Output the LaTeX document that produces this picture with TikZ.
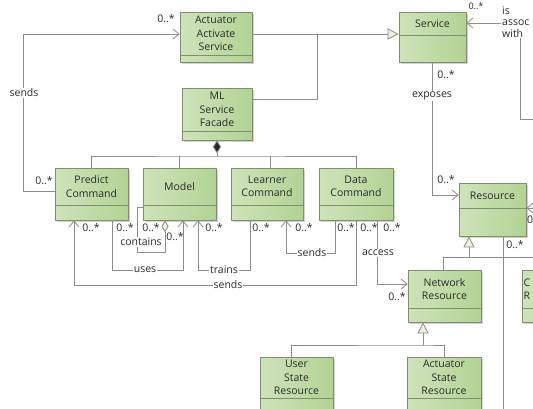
\documentclass[tikz,border=0pt]{standalone}
\usepackage{fontspec}
\setmainfont{Open Sans}
\usetikzlibrary{arrows.meta}
\definecolor{lnc}{HTML}{8C8C8C}
\definecolor{bdc}{HTML}{7F8F72}
\definecolor{gl}{HTML}{CFE3BA}
\definecolor{gm}{HTML}{DDEBD0}
\definecolor{gr}{HTML}{B2D394}
\definecolor{txc}{HTML}{2B2B2B}
\definecolor{crm}{HTML}{F2EEDC}
\newcommand\mkcls[7]{%
  \pgfmathsetmacro\cw{#4-#2}\pgfmathsetmacro\ch{#5-#3}%
  \fill[shd] (#2+2,#3+2) rectangle (#4+2,#5+2);
  \node[cls, minimum width=\cw pt, minimum height=\ch pt] (#1) at ({(#2+#4)/2},{(#3+#5)/2}) {};
  \draw[bdc, line width=0.7pt] (#2,#6) -- (#4,#6);
  \node[clstext] (#1t) at ({(#2+#4)/2},{(#3+#6)/2}) {#7};
}
\begin{document}
\begin{tikzpicture}[x=1pt,y=-1pt,
  font=\fontsize{10.5}{13.5}\selectfont,
  cls/.style={draw=bdc,line width=0.7pt,left color=gl,middle color=gm,right color=gr,inner sep=0pt},
  clstext/.style={align=center,text=txc,inner sep=0pt},
  shd/.style={fill=black,opacity=0.18},
  ln/.style={draw=lnc,line width=0.8pt},
  nav/.style={ln,-{Straight Barb[length=6pt,width=10pt]}},
  navs/.style={ln,{Straight Barb[length=6pt,width=10pt]}-},
  gen/.style={ln,-{Triangle[length=11pt,width=11pt,fill=crm]}},
  comp/.style={ln,{Diamond[length=13pt,width=8pt,fill=black!85]}-},
  agg/.style={ln,-{Diamond[length=12pt,width=7pt,fill=crm]}},
  lbl/.style={text=txc,inner sep=1pt},
  wl/.style={lbl,fill=white},
]
\useasboundingbox (0,0) rectangle (533,408);
\clip (0,0) rectangle (533,408);
\fill[white] (0,0) rectangle (533,408);

\mkcls{aas}{180}{12}{252}{62}{55}{Actuator\\Activate\\Service}
\mkcls{ml}{182}{88}{252}{140}{131}{ML\\Service\\Facade}
\mkcls{sv}{399}{12}{466}{62}{35}{Service}
\mkcls{pc}{55}{168}{128}{220}{205}{Predict\\Command}
\mkcls{md}{143}{168}{216}{220}{205}{Model}
\mkcls{lc}{231}{168}{303}{220}{205}{Learner\\Command}
\mkcls{dc}{319}{168}{393}{220}{205}{Data\\Command}
\mkcls{rs}{459}{183}{526}{236}{208}{Resource}
\mkcls{nr}{408}{270}{481}{322}{308}{Network\\Resource}
\mkcls{us}{260}{357}{333}{425}{398}{User\\State\\Resource}
\mkcls{as}{407}{357}{481}{425}{398}{Actuator\\State\\Resource}
\mkcls{cr}{522}{270}{600}{322}{308}{}
\node[clstext,align=left,anchor=west] (crt2) at (523.5,289) {C\\R};

% sends: Predict -> Actuator Activate Service
\coordinate (k1) at (23,191);
\draw[nav] ([yshift=3pt]pc.west) -- (k1) |- ([yshift=3pt]aas.west);
\node[wl] (l1) at (24,93) {sends};
\node[lbl] (l2) at (166,19) {0..*};
\node[lbl] (l3) at (44,181) {0..*};

% generalizations to Service
\draw[gen] ([yshift=3pt]aas.east) -- ([yshift=3pt]sv.west);
\coordinate (j1) at (317,34);
\draw[ln] ([yshift=15pt]ml.east) -| (j1);

% composition
\coordinate (bus) at (217,156);
\draw[comp] (ml.south) -- (bus);
\draw[ln] (pc.north) |- (bus) -| (dc.north);
\draw[ln] (md.north) -- (md.north |- bus);
\draw[ln] ([xshift=3pt]lc.north) -- ([xshift=3pt]lc.north |- bus);

% exposes
\draw[nav] (sv.south) |- ([yshift=14.5pt]rs.west);
\node[lbl] (l4) at (446,75) {0..*};
\node[wl] (l5) at (432,96) {exposes};
\node[lbl] (l6) at (446,180) {0..*};

% association at Service right
\coordinate (k2) at (520,119);
\coordinate (k3) at (545,119);
\draw[navs] ([yshift=14pt]sv.east) -| (k2) -- (k3);
\node[wl,align=left,anchor=west,font=\fontsize{10.5}{11.5}\selectfont] (l7) at (501,22) {is\\assoc\\with};
\node[lbl,font=\fontsize{9}{10}\selectfont] (l8) at (476,6) {0..*};

% Resource right
\coordinate (k4) at (545,208);
\draw[nav] (k4) -- ([yshift=1.5pt]rs.east);
\node[lbl,anchor=west] (l9) at (526,220) {0};

% Resource bottom
\coordinate (k5) at (503,430);
\draw[ln] (rs.south -| k5) -- (k5);
\node[lbl] (l10) at (515,245) {0..*};

% generalization to Resource
\coordinate (g1) at (469,257);
\coordinate (k6) at (545,257);
\draw[ln] ([xshift=-1.5pt]nr.north) |- (k6);
\draw[gen] (g1) -- (g1 |- rs.south);

% generalization to Network Resource
\coordinate (g2) at (423,345);
\draw[ln] ([xshift=-5.5pt]us.north) |- (g2) -| (as.north);
\draw[gen] (g2) -- (g2 |- nr.south);

% contains
\coordinate (c1) at (137,252);
\coordinate (c2) at (165,252);
\draw[agg] ([yshift=-13pt]md.west) -| (c1) -- (c2) -- (c2 |- md.south);
\node[lbl] (l11) at (151,228) {0..*};
\node[wl] (l12) at (141,242) {contains};
\node[lbl] (l13) at (175,237) {0..*};

% uses
\coordinate (u1) at (112,270);
\coordinate (u2) at (183,270);
\draw[nav] (pc.south -| u1) -- (u1) -- (u2) -- (u2 |- md.south);
\node[wl] (l14) at (145,270) {uses};
\node[lbl] (l15) at (125,228) {0..*};

% trains
\coordinate (t1) at (250,270);
\coordinate (t2) at (198,270);
\draw[nav] (lc.south -| t1) -- (t1) -- (t2) -- (t2 |- md.south);
\node[wl] (l16) at (224,270) {trains};
\node[lbl] (l17) at (214,228) {0..*};
\node[lbl] (l18) at (261,228) {0..*};

% sends: Data -> Predict
\coordinate (s1) at (356,285);
\coordinate (s2) at (74,285);
\draw[nav] (dc.south -| s1) -- (s1) -- (s2) -- (s2 |- pc.south);
\node[wl] (l19) at (228,285) {sends};
\node[lbl] (l20) at (91,228) {0..*};
\node[lbl] (l21) at (369,228) {0..*};

% sends: Data -> Learner
\coordinate (s3) at (335,253);
\coordinate (s4) at (286,253);
\draw[nav] (dc.south -| s3) -- (s3) -- (s4) -- (s4 |- lc.south);
\node[wl] (l22) at (312,253) {sends};
\node[lbl] (l23) at (346,228) {0..*};
\node[lbl] (l24) at (304,228) {0..*};

% access
\coordinate (a1) at (377,284);
\draw[nav] (dc.south -| a1) -- (a1) -- (a1 -| nr.west);
\node[wl] (l25) at (378,253) {access};
\node[lbl] (l26) at (392,228) {0..*};
\node[lbl] (l27) at (397,297) {0..*};
\end{tikzpicture}
\end{document}
